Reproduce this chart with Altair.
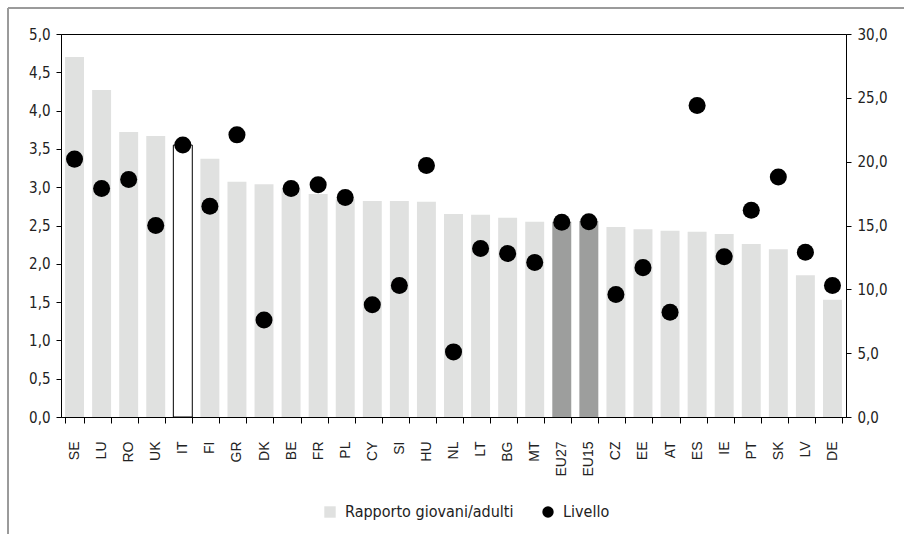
import altair as alt
import pandas as pd

countries = ["SE", "LU", "RO", "UK", "IT", "FI", "GR", "DK", "BE", "FR",
             "PL", "CY", "SI", "HU", "NL", "LT", "BG", "MT", "EU27", "EU15",
             "CZ", "EE", "AT", "ES", "IE", "PT", "SK", "LV", "DE"]
ratio = [4.70, 4.27, 3.72, 3.67, 3.55, 3.37, 3.07, 3.04, 2.98, 2.91,
         2.85, 2.82, 2.82, 2.81, 2.65, 2.64, 2.60, 2.55, 2.55, 2.56,
         2.48, 2.45, 2.43, 2.42, 2.39, 2.26, 2.19, 1.85, 1.53]
level = [20.2, 17.9, 18.6, 15.0, 21.3, 16.5, 22.1, 7.6, 17.9, 18.2,
         17.2, 8.8, 10.3, 19.7, 5.1, 13.2, 12.8, 12.1, 15.25, 15.3,
         9.6, 11.7, 8.2, 24.4, 12.55, 16.2, 18.8, 12.9, 10.3]
series_names = ["Rapporto giovani/adulti", "Livello"]

bars_df = pd.DataFrame({"country": countries, "value": ratio, "series": series_names[0]})
dots_df = pd.DataFrame({"country": countries, "value": level, "series": series_names[1]})

NUM_FONT = "DejaVu Sans Condensed, Roboto, sans-serif"
LBL_FONT = "Liberation Sans"

x_enc = alt.X(
    "country:N", sort=countries,
    scale=alt.Scale(paddingInner=0.3, paddingOuter=0.15),
    axis=alt.Axis(title=None, labelAngle=-90, labelFont=LBL_FONT, labelFontSize=14,
                  labelColor="#222", domainColor="black", tickColor="black",
                  tickSize=6, tickBand="extent", labelPadding=18),
)

color_scale = alt.Scale(domain=series_names, range=["#e0e1e0", "black"])

bars = alt.Chart(bars_df).mark_bar(strokeWidth=1).encode(
    x=x_enc,
    y=alt.Y("value:Q", scale=alt.Scale(domain=[0, 5], nice=False),
            axis=alt.Axis(title=None, orient="left", values=[0, 0.5, 1, 1.5, 2, 2.5, 3, 3.5, 4, 4.5, 5],
                          labelExpr="replace(format(datum.value, '.1f'), '.', ',')",
                          labelFont=NUM_FONT, labelFontSize=15, labelColor="#222",
                          domainColor="black", tickColor="black", tickSize=5, labelPadding=6,
                          grid=False)),
    color=alt.Color("series:N", scale=color_scale,
                    legend=alt.Legend(title=None),
                    condition=[{"test": "datum.country === 'IT'", "value": "white"},
                               {"test": "datum.country === 'EU27' || datum.country === 'EU15'", "value": "#9d9e9d"}]),
    stroke=alt.condition("datum.country === 'IT'", alt.value("black"), alt.value(None)),
)

dots = alt.Chart(dots_df).mark_point(filled=True, size=290, opacity=1).encode(
    x=alt.X("country:N", sort=countries),
    y=alt.Y("value:Q", scale=alt.Scale(domain=[0, 30], nice=False),
            axis=alt.Axis(title=None, orient="right", values=[0, 5, 10, 15, 20, 25, 30],
                          labelExpr="replace(format(datum.value, '.1f'), '.', ',')",
                          labelFont=NUM_FONT, labelFontSize=15, labelColor="#222",
                          domainColor="black", tickColor="black", tickSize=5, labelPadding=6,
                          grid=False)),
    color=alt.Color("series:N", scale=color_scale, legend=alt.Legend(title=None)),
    shape=alt.Shape("series:N", scale=alt.Scale(domain=series_names, range=["square", "circle"]),
                    legend=alt.Legend(title=None)),
)

frame_left = alt.Chart(bars_df).mark_rule(color="#9a9a9a", strokeWidth=1).encode(
    x=alt.value(-53), y=alt.value(-26), y2=alt.value(520))
frame_top = alt.Chart(bars_df).mark_rule(color="#9a9a9a", strokeWidth=1).encode(
    x=alt.value(-53), x2=alt.value(860), y=alt.value(-26))

chart = alt.layer(bars, dots, frame_left, frame_top).resolve_scale(y="independent").properties(
    width=785, height=383,
    autosize=alt.AutoSizeParams(type="none"),
    padding={"left": 61, "top": 34, "right": 58, "bottom": 117},
    background="white",
).configure_view(stroke="black", strokeWidth=1).configure_legend(
    orient="none", legendX=261, legendY=470, direction="horizontal",
    labelFont=NUM_FONT, labelFontSize=16, labelColor="#222", labelLimit=400,
    symbolSize=130, columnPadding=26, symbolStrokeWidth=0, labelOffset=7,
)

chart.save("out.html", embed_options={"renderer": "svg", "actions": False})
